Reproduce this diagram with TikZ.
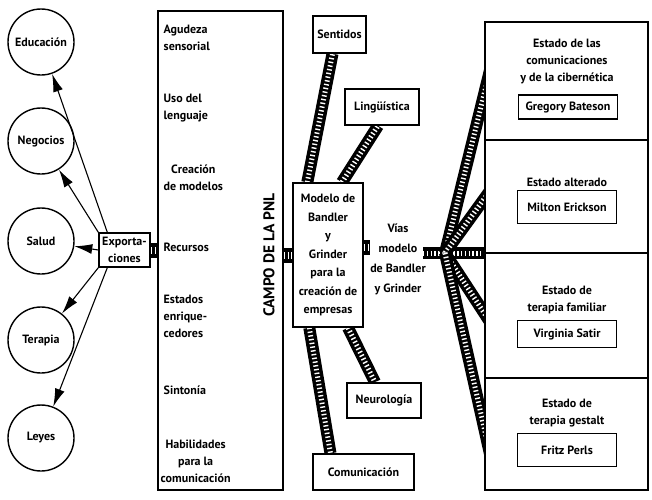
\documentclass[tikz,border=0pt]{standalone}
\usepackage{fontspec}
\setmainfont{PT Sans}
\usetikzlibrary{arrows.meta,positioning,backgrounds}
\tikzset{
  pnl/.style={x=1pt, y=-1pt, line width=1.4pt, font=\fontsize{12}{17}\selectfont\bfseries},
  p circ/.style={draw, circle, fill=white, minimum size=66pt, inner sep=0pt},
  p box/.style={draw, fill=white, align=center, inner sep=2pt},
  p name/.style={p box, minimum width=99pt, minimum height=28pt},
  p item/.style={anchor=west, align=left, inner sep=0pt},
  p sect/.style={draw, fill=white, minimum width=163pt, inner sep=0pt},
  p lbl/.style={align=center, inner sep=0pt},
  p arr/.style={-{Latex[length=18pt, width=10pt]}, line width=1.1pt},
  p band/.style={line width=12pt, draw=black,
                 postaction={draw=white, line width=5pt, dash pattern=on 1.4pt off 2.4pt}},
  p link/.style={line width=15pt, draw=black,
                 postaction={draw=white, line width=7pt, dash pattern=on 1.4pt off 2.4pt}},
}

\begin{document}
\begin{tikzpicture}[pnl]
\useasboundingbox (0,0) rectangle (652,499);
% ---- exportaciones ----
\node[p circ] (edu) at (41, 42)  {Educación};
\node[p circ] (neg) at (41, 141) {Negocios};
\node[p circ] (sal) at (41, 241) {Salud};
\node[p circ] (ter) at (41, 340) {Terapia};
\node[p circ] (ley) at (41, 438) {Leyes};
\node[p box, minimum width=51pt, minimum height=34pt] (exp) at (124.5, 250) {Exporta-\\ciones};
\draw[p arr] ([xshift=9pt]exp.north west) -- (edu);
\draw[p arr] (exp.north west) -- (neg);
\draw[p arr] (exp.west) -- (sal);
\draw[p arr] (exp.south west) -- (ter);
\draw[p arr] ([xshift=9pt]exp.south west) -- (ley);
% ---- campo de la PNL ----
\node[draw, fill=white, minimum width=125pt, minimum height=479pt] (campo) at (220.5, 250.5) {};
\node[p item] (i1) at (163, 38)  {Agudeza\\sensorial};
\node[p item] (i2) at (163, 108) {Uso del\\lenguaje};
\node[p item, align=center] (i3) at (163, 178) {Creación\\de modelos};
\node[p item] (i4) at (163, 247) {Recursos};
\node[p item] (i5) at (163, 316) {Estados\\enrique-\\cedores};
\node[p item] (i6) at (163, 390) {Sintonía};
\node[p item, align=center] (i7) at (160, 461) {Habilidades\\para la\\comunicación};
\node[rotate=90, font=\fontsize{15.5}{18}\selectfont\bfseries] (campolbl) at (269, 255) {CAMPO DE LA PNL};
% ---- modelo ----
\node[p box, minimum width=70pt, minimum height=144pt, font=\fontsize{12}{18.5}\selectfont\bfseries]
  (modelo) at (328, 255) {Modelo de\\Bandler\\y\\Grinder\\para la\\creación de\\empresas};
\node[p box, minimum width=53pt, minimum height=37pt]  (sen) at (339.5, 34.5) {Sentidos};
\node[p box, minimum width=74pt, minimum height=36pt]  (lin) at (382, 107)   {Lingüística};
\node[p box, minimum width=74pt, minimum height=35pt]  (neu) at (384, 400.5) {Neurología};
\node[p box, minimum width=101pt, minimum height=36pt] (com) at (363.5, 472) {Comunicación};
\node[p lbl, font=\fontsize{12}{20}\selectfont\bfseries] (vias) at (398, 259) {Vías\\modelo\\de Bandler\\y Grinder};
% ---- estados ----
\node[p sect, minimum height=118pt] (s1) at (566.5, 81)    {};
\node[p sect, minimum height=113pt] (s2) at (566.5, 196.5) {};
\node[p sect, minimum height=125pt] (s3) at (566.5, 315.5) {};
\node[p sect, minimum height=112pt] (s4) at (566.5, 434)   {};
\node[p lbl] (t1) at (567, 62)  {Estado de las\\comunicaciones\\y de la cibernética};
\node[p name, minimum height=24pt] (n1) at (568, 107) {Gregory Bateson};
\node[p lbl] (t2) at (567, 182) {Estado alterado};
\node[p name, minimum height=33pt] (n2) at (567, 207) {Milton Erickson};
\node[p lbl] (t3) at (567, 300) {Estado de\\terapia familiar};
\node[p name, minimum height=27pt] (n3) at (567, 334) {Virginia Satir};
\node[p lbl] (t4) at (567, 413) {Estado de\\terapia gestalt};
\node[p name, minimum height=33pt] (n4) at (567, 450) {Fritz Perls};
% ---- bandas ----
\coordinate (hub)  at (445, 253);
\coordinate (hubw) at (423, 253);
\coordinate (e1) at (492, 62);
\coordinate (e2) at (492, 188);
\coordinate (e3) at (492, 253);
\coordinate (e4) at (492, 325);
\coordinate (e5) at (492, 463);
\begin{scope}[on background layer]
\draw[p link] (exp.east) -- (exp.east -| campo.west);
\draw[p link] (campo.east |- modelo.west) -- (modelo.west);
\draw[p link] ([yshift=8pt]modelo.east) -- ([yshift=8pt]modelo.east -| vias.west);
\draw[p band] ([xshift=15pt]modelo.north west) -- ([xshift=-7pt]sen.south);
\draw[p band] ([xshift=14pt]modelo.north) -- ([xshift=-4pt]lin.south);
\draw[p band] ([xshift=20pt]modelo.south) -- ([xshift=-9pt]neu.north);
\draw[p band] ([xshift=17pt]modelo.south west) -- ([xshift=-33pt]com.north);
\draw[p band] (hubw) -- (e3);
\draw[p band] (hub) -- (e1);
\draw[p band] (hub) -- (e2);
\draw[p band] (hub) -- (e4);
\draw[p band] (hub) -- (e5);
\end{scope}
\end{tikzpicture}
\end{document}
